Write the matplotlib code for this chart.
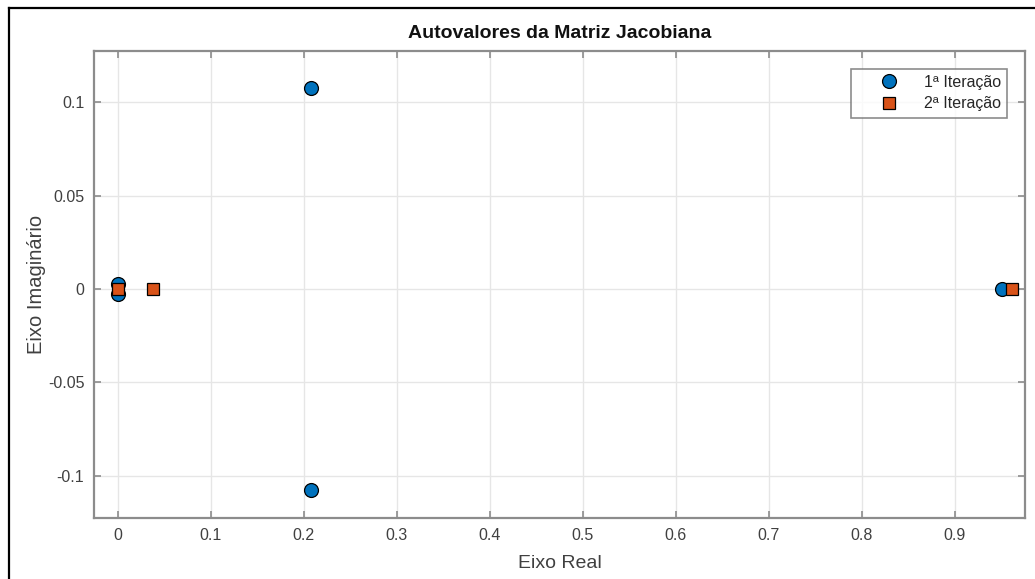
import matplotlib.pyplot as plt
from matplotlib.lines import Line2D

plt.rcParams['font.family'] = ['Liberation Sans', 'DejaVu Sans']

# Autovalores (parte real, parte imaginária) de cada iteração
iter1_real = [0.0, 0.0, 0.208, 0.208, 0.951]
iter1_imag = [0.0025, -0.0025, 0.1078, -0.1078, 0.0]
iter2_real = [0.0, 0.038, 0.962]
iter2_imag = [0.0, 0.0, 0.0]

xticks = [0, 0.1, 0.2, 0.3, 0.4, 0.5, 0.6, 0.7, 0.8, 0.9]
yticks = [-0.1, -0.05, 0, 0.05, 0.1]
ytick_labels = ['-0.1', '-0.05', '0', '0.05', '0.1']

fig = plt.figure(figsize=(10.35, 5.79), dpi=100)
ax = fig.add_axes([94 / 1035, 1 - 518 / 579, (1025 - 94) / 1035, (518 - 51) / 579])

# moldura da janela
fig.add_artist(Line2D([9 / 1035, 9 / 1035], [0, 1 - 8 / 579], color='black', lw=1.6))
fig.add_artist(Line2D([9 / 1035, 1], [1 - 8 / 579, 1 - 8 / 579], color='black', lw=1.6))

ax.plot(iter1_real, iter1_imag, 'o', color='#0072BD', markeredgecolor='black',
        markersize=10, markeredgewidth=0.9, label='1ª Iteração', zorder=3)
ax.plot(iter2_real, iter2_imag, 's', color='#D95319', markeredgecolor='black',
        markersize=8.5, markeredgewidth=0.9, label='2ª Iteração', zorder=4)

ax.set_xlim(-0.0255, 0.9756)
ax.set_ylim(-0.1227, 0.1275)
ax.set_xticks(xticks)
ax.set_xticklabels([f'{t:g}' for t in xticks])
ax.set_yticks(yticks)
ax.set_yticklabels(ytick_labels)

ax.grid(True, color='#e6e6e6', linewidth=1.0)
ax.set_axisbelow(True)
for s in ax.spines.values():
    s.set_color('#8c8c8c')
    s.set_linewidth(1.6)
ax.tick_params(direction='in', length=5, width=1.2, color='#8c8c8c',
               labelcolor='#404040', labelsize=11.5, top=True, right=True, pad=7)

ax.set_title('Autovalores da Matriz Jacobiana', fontsize=14, fontweight='bold',
             color='#111111', pad=9)
ax.set_xlabel('Eixo Real', fontsize=14, color='#404040', labelpad=9)
ax.set_ylabel('Eixo Imaginário', fontsize=14.5, color='#404040', labelpad=1)

leg = ax.legend(loc='upper right', fontsize=11.5, frameon=True, fancybox=False,
                edgecolor='#707070', borderpad=0.4, handletextpad=0.25,
                handlelength=3.9, borderaxespad=1.1, labelspacing=0.4,
                markerfirst=True)
leg.get_frame().set_linewidth(1.2)
for t in leg.get_texts():
    t.set_color('#262626')

fig.savefig('out.png', dpi=100, facecolor='white')
